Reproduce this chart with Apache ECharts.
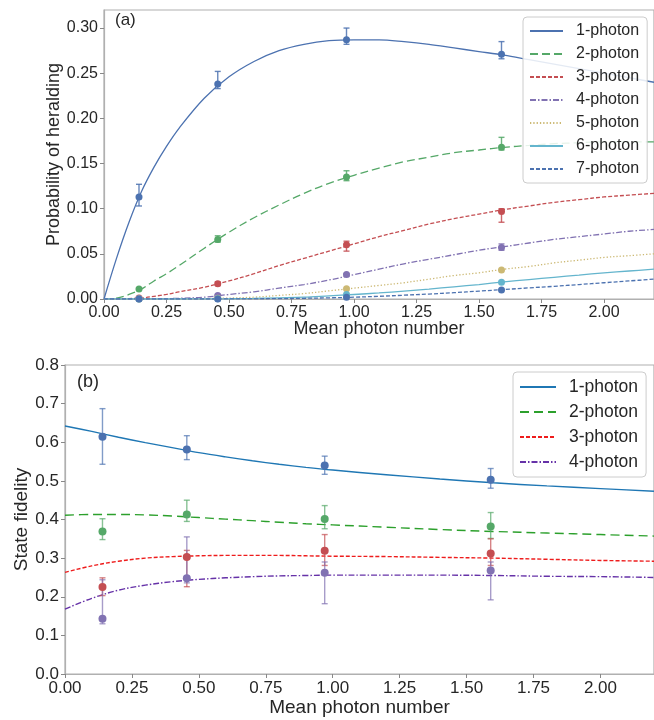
<!DOCTYPE html>
<html>
<head>
<meta charset="utf-8">
<script src="https://cdn.jsdelivr.net/npm/echarts@6/dist/echarts.min.js"></script>
<style>html,body{margin:0;padding:0;background:#fff}#c{width:654px;height:720px}</style>
</head>
<body>
<div id="c"></div>
<script>
// ---------- data ----------
const X_PTS = [0.14, 0.455, 0.97, 1.59];

// (a) heralding probability: theory curves
const X_TOP = [0, 0.05, 0.1, 0.15, 0.2, 0.25, 0.3, 0.4, 0.5, 0.6, 0.7, 0.8, 0.9, 1.0, 1.1, 1.2, 1.3, 1.4, 1.5, 1.6, 1.7, 1.8, 1.9, 2.0, 2.1, 2.2];
const C1 = [0, 0.045, 0.085, 0.119, 0.146, 0.169, 0.189, 0.222, 0.246, 0.263, 0.275, 0.282, 0.286, 0.287, 0.287, 0.285, 0.282, 0.278, 0.274, 0.270, 0.265, 0.260, 0.255, 0.250, 0.245, 0.240];
const C2 = [0, 0.001, 0.005, 0.011, 0.020, 0.028, 0.037, 0.056, 0.074, 0.090, 0.104, 0.117, 0.128, 0.137, 0.145, 0.152, 0.157, 0.162, 0.165, 0.168, 0.170, 0.172, 0.173, 0.174, 0.174, 0.174];
const C3 = [0, 0, 0.0005, 0.001, 0.003, 0.005, 0.008, 0.013, 0.020, 0.028, 0.037, 0.045, 0.053, 0.061, 0.069, 0.076, 0.083, 0.089, 0.094, 0.099, 0.103, 0.107, 0.110, 0.113, 0.115, 0.117];
const C4 = [0, 0, 0, 0, 0.0002, 0.0004, 0.0008, 0.002, 0.005, 0.008, 0.012, 0.016, 0.021, 0.027, 0.033, 0.039, 0.044, 0.049, 0.054, 0.058, 0.062, 0.066, 0.069, 0.072, 0.075, 0.077];
const C5 = [0, 0, 0, 0, 0, 0, 0.0001, 0.0004, 0.001, 0.002, 0.004, 0.006, 0.009, 0.012, 0.015, 0.018, 0.022, 0.026, 0.029, 0.033, 0.036, 0.040, 0.043, 0.046, 0.048, 0.050];
const C6 = [0, 0, 0, 0, 0, 0, 0, 0.0001, 0.0003, 0.0007, 0.0013, 0.002, 0.0035, 0.005, 0.0067, 0.0088, 0.011, 0.0135, 0.016, 0.019, 0.0215, 0.024, 0.0265, 0.029, 0.031, 0.033];
const C7 = [0, 0, 0, 0, 0, 0, 0, 0, 0.0001, 0.0002, 0.0004, 0.0008, 0.0013, 0.002, 0.003, 0.0042, 0.0055, 0.007, 0.0087, 0.0105, 0.0123, 0.014, 0.016, 0.018, 0.020, 0.022];

// (a) measured points and error bars
const P1 = [0.113, 0.238, 0.287, 0.271], P1_LO = [0.103, 0.233, 0.282, 0.266], P1_HI = [0.127, 0.252, 0.300, 0.285];
const P2 = [0.011, 0.066, 0.135, 0.168], P2_LO = [0.010, 0.063, 0.131, 0.165], P2_HI = [0.012, 0.070, 0.142, 0.179];
const P3 = [0.001, 0.017, 0.060, 0.097], P3_LO = [0.001, 0.015, 0.053, 0.085], P3_HI = [0.001, 0.019, 0.064, 0.100];
const P4 = [0.0003, 0.004, 0.027, 0.057], P4_LO = [0.0003, 0.003, 0.025, 0.054], P4_HI = [0.0003, 0.005, 0.028, 0.061];
const P5 = [0, 0.0008, 0.0114, 0.032];
const P6 = [0, 0.0002, 0.005, 0.0185];
const P7 = [0, 0.00005, 0.002, 0.010];

// (b) state fidelity: theory curves
const X_BOT = [0, 0.1, 0.2, 0.3, 0.4, 0.5, 0.6, 0.7, 0.8, 0.9, 1.0, 1.2, 1.4, 1.6, 1.8, 2.0, 2.2];
const F1 = [0.642, 0.628, 0.613, 0.599, 0.586, 0.573, 0.562, 0.552, 0.543, 0.535, 0.528, 0.516, 0.505, 0.495, 0.487, 0.480, 0.473];
const F2 = [0.411, 0.413, 0.413, 0.412, 0.409, 0.405, 0.401, 0.397, 0.393, 0.389, 0.386, 0.380, 0.374, 0.369, 0.365, 0.361, 0.357];
const F3 = [0.263, 0.280, 0.292, 0.300, 0.304, 0.306, 0.307, 0.307, 0.307, 0.306, 0.305, 0.304, 0.302, 0.300, 0.297, 0.294, 0.292];
const F4 = [0.168, 0.196, 0.217, 0.230, 0.239, 0.245, 0.249, 0.252, 0.254, 0.255, 0.256, 0.256, 0.256, 0.255, 0.253, 0.252, 0.250];

// (b) measured points and error bars
const B1 = [0.614, 0.581, 0.540, 0.503], B1_LO = [0.543, 0.555, 0.517, 0.481], B1_HI = [0.687, 0.617, 0.564, 0.532];
const B2 = [0.369, 0.413, 0.401, 0.382], B2_LO = [0.348, 0.395, 0.376, 0.351], B2_HI = [0.402, 0.450, 0.436, 0.418];
const B3 = [0.225, 0.303, 0.319, 0.312], B3_LO = [0.203, 0.226, 0.281, 0.281], B3_HI = [0.249, 0.320, 0.361, 0.350];
const B4 = [0.143, 0.248, 0.262, 0.268], B4_LO = [0.130, 0.236, 0.182, 0.192], B4_HI = [0.244, 0.355, 0.290, 0.290];

const NAMES_TOP = ['1-photon', '2-photon', '3-photon', '4-photon', '5-photon', '6-photon', '7-photon'];
const NAMES_BOT = ['1-photon', '2-photon', '3-photon', '4-photon'];

// ---------- build ----------
const FONT = 'Liberation Sans, Arial, sans-serif';
const TXT = '#262626';
const SPINE = '#b0b0b0';

function pairs(xs, ys) { return xs.map((x, i) => [x, ys[i]]); }
function errData(lo, hi) { return X_PTS.map((x, i) => [x, lo[i], hi[i]]); }

function lineSeries(name, xs, ys, color, dash, ax, width) {
  return {
    type: 'line', name: name, xAxisIndex: ax, yAxisIndex: ax,
    data: pairs(xs, ys), smooth: 0.35, showSymbol: false, symbol: 'none',
    lineStyle: { color: color, width: width || 1.3, type: dash },
    itemStyle: { color: color }, z: 2, silent: true
  };
}
function pointSeries(name, ys, color, ax, size) {
  return {
    type: 'scatter', name: name, xAxisIndex: ax, yAxisIndex: ax,
    data: pairs(X_PTS, ys), symbol: 'circle', symbolSize: size || 7,
    itemStyle: { color: color, opacity: 1 }, z: 5, silent: true
  };
}
function errSeries(name, lo, hi, color, ax, opacity) {
  return {
    type: 'custom', name: name, xAxisIndex: ax, yAxisIndex: ax,
    data: errData(lo, hi), encode: { x: 0, y: [1, 2] }, z: 4, silent: true,
    renderItem: function (params, api) {
      const x = api.value(0);
      const a = api.coord([x, api.value(1)]);
      const b = api.coord([x, api.value(2)]);
      const st = { stroke: color, lineWidth: 1.4, opacity: opacity };
      const cw = 3;
      return {
        type: 'group', children: [
          { type: 'line', shape: { x1: a[0], y1: a[1], x2: b[0], y2: b[1] }, style: st },
          { type: 'line', shape: { x1: a[0] - cw, y1: a[1], x2: a[0] + cw, y2: a[1] }, style: st },
          { type: 'line', shape: { x1: b[0] - cw, y1: b[1], x2: b[0] + cw, y2: b[1] }, style: st }
        ]
      };
    }
  };
}

const TOP_COL = ['#4c72b0', '#55a868', '#c44e52', '#8172b2', '#ccb974', '#64b5cd', '#4c72b0'];
const TOP_DASH = ['solid', [8, 4], [4, 2], [6, 2, 1.5, 2], [1.3, 2], 'solid', [4, 2]];
const TOP_CURVES = [C1, C2, C3, C4, C5, C6, C7];
const TOP_PTS = [P1, P2, P3, P4, P5, P6, P7];
const TOP_ERR = [[P1_LO, P1_HI], [P2_LO, P2_HI], [P3_LO, P3_HI], [P4_LO, P4_HI]];

const BOT_LINE_COL = ['#1f77b4', '#2ca02c', '#ee1c1c', '#6632a8'];
const BOT_PT_COL = ['#4c72b0', '#55a868', '#c44e52', '#8172b2'];
const BOT_DASH = ['solid', [9, 5], [4, 2], [6, 2, 1.5, 2]];
const BOT_CURVES = [F1, F2, F3, F4];
const BOT_PTS = [B1, B2, B3, B4];
const BOT_ERR = [[B1_LO, B1_HI], [B2_LO, B2_HI], [B3_LO, B3_HI], [B4_LO, B4_HI]];

const series = [];
NAMES_TOP.forEach((n, i) => {
  series.push(lineSeries(n, X_TOP, TOP_CURVES[i], TOP_COL[i], TOP_DASH[i], 0));
  if (TOP_ERR[i]) series.push(errSeries(n + ' err', TOP_ERR[i][0], TOP_ERR[i][1], TOP_COL[i], 0, 0.85));
  series.push(pointSeries(n + ' data', TOP_PTS[i], TOP_COL[i], 0, 7));
});
NAMES_BOT.forEach((n, i) => {
  series.push(lineSeries(n + ' (b)', X_BOT, BOT_CURVES[i], BOT_LINE_COL[i], BOT_DASH[i], 1, 1.4));
  series.push(errSeries(n + ' (b) err', BOT_ERR[i][0], BOT_ERR[i][1], BOT_PT_COL[i], 1, 0.7));
  series.push(pointSeries(n + ' (b) data', BOT_PTS[i], BOT_PT_COL[i], 1, 8));
});

function xAxis(grid, fs, nameFs, nameGap, margin) {
  return {
    type: 'value', gridIndex: grid, min: 0, max: 2.2, interval: 0.25,
    name: 'Mean photon number', nameLocation: 'middle', nameGap: nameGap, nameMoveOverlap: false,
    nameTextStyle: { fontFamily: FONT, fontSize: nameFs, color: TXT },
    axisLine: { show: true, lineStyle: { color: SPINE, width: 1.2 } },
    axisTick: { show: true, length: 4, lineStyle: { color: '#888' } },
    splitLine: { show: false },
    axisLabel: { fontFamily: FONT, fontSize: fs, color: TXT, margin: margin, showMaxLabel: false,
      formatter: v => v.toFixed(2) }
  };
}

const option = {
  backgroundColor: '#fff',
  animation: false,
  grid: [
    { left: 104, top: 10, right: -2, height: 289, show: true, borderColor: SPINE, borderWidth: 1.2 },
    { left: 65, top: 365, right: -2, height: 309, show: true, borderColor: SPINE, borderWidth: 1.2 }
  ],
  xAxis: [xAxis(0, 16, 18, 21, 6), xAxis(1, 17, 19, 24, 6)],
  yAxis: [
    {
      type: 'value', gridIndex: 0, min: 0, max: 0.32, interval: 0.05,
      name: 'Probability of heralding', nameLocation: 'middle', nameGap: 41, nameMoveOverlap: false,
      nameTextStyle: { fontFamily: FONT, fontSize: 18, color: TXT },
      axisLine: { show: true, lineStyle: { color: SPINE, width: 1.2 } },
      axisTick: { show: true, length: 4, lineStyle: { color: '#888' } },
      splitLine: { show: false },
      axisLabel: { fontFamily: FONT, fontSize: 16, color: TXT, margin: 6, showMaxLabel: false,
        formatter: v => v.toFixed(2) }
    },
    {
      type: 'value', gridIndex: 1, min: 0, max: 0.8, interval: 0.1,
      name: 'State fidelity', nameLocation: 'middle', nameGap: 34, nameMoveOverlap: false,
      nameTextStyle: { fontFamily: FONT, fontSize: 19, color: TXT },
      axisLine: { show: true, lineStyle: { color: SPINE, width: 1.2 } },
      axisTick: { show: true, length: 4, lineStyle: { color: '#888' } },
      splitLine: { show: false },
      axisLabel: { fontFamily: FONT, fontSize: 17, color: TXT, margin: 6,
        formatter: v => v.toFixed(1) }
    }
  ],
  legend: [
    {
      data: NAMES_TOP, orient: 'vertical', left: 523, top: 17,
      itemWidth: 33, itemHeight: 12, itemGap: 7,
      padding: [6, 8, 6, 6],
      itemStyle: { opacity: 0 },
      backgroundColor: 'rgba(255,255,255,0.85)', borderColor: '#cccccc', borderWidth: 1, borderRadius: 4,
      textStyle: { fontFamily: FONT, fontSize: 16, color: TXT, padding: [0, 0, 0, 8] },
      selectedMode: false
    },
    {
      data: NAMES_BOT.map(n => n + ' (b)'), orient: 'vertical', left: 513, top: 372,
      itemWidth: 36, itemHeight: 12, itemGap: 7,
      padding: [6, 8, 6, 6],
      itemStyle: { opacity: 0 },
      backgroundColor: 'rgba(255,255,255,0.85)', borderColor: '#cccccc', borderWidth: 1, borderRadius: 4,
      textStyle: { fontFamily: FONT, fontSize: 17.5, color: TXT, padding: [0, 0, 0, 8] },
      formatter: n => n.replace(' (b)', ''),
      selectedMode: false
    }
  ],
  graphic: [
    { type: 'text', left: 115, top: 12, style: { text: '(a)', fontFamily: FONT, fontSize: 17, fill: TXT } },
    { type: 'text', left: 77, top: 373, style: { text: '(b)', fontFamily: FONT, fontSize: 18, fill: TXT } }
  ],
  series: series
};

const chart = echarts.init(document.getElementById('c'), null, { renderer: 'canvas' });
chart.setOption(option);
</script>
</body>
</html>
